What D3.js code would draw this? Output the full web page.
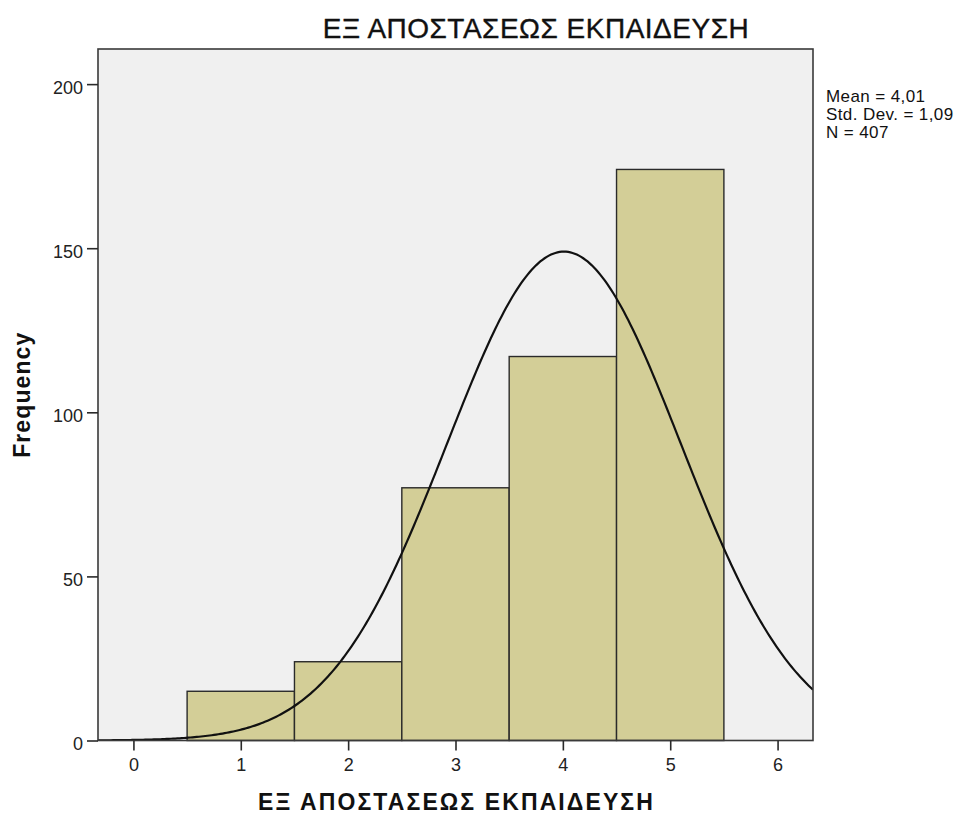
<!DOCTYPE html>
<html><head><meta charset="utf-8">
<script src="https://cdn.jsdelivr.net/npm/d3@7"></script>
<style>html,body{margin:0;padding:0;background:#fff;}svg{display:block;font-family:"Liberation Sans",Arial,sans-serif;}</style>
</head><body>
<svg id="chart" width="963" height="815"></svg>
<script>
const title = "ΕΞ ΑΠΟΣΤΑΣΕΩΣ ΕΚΠΑΙΔΕΥΣΗ";
const xAxisTitle = "ΕΞ ΑΠΟΣΤΑΣΕΩΣ ΕΚΠΑΙΔΕΥΣΗ";
const yAxisTitle = "Frequency";
const categories = [1, 2, 3, 4, 5];
const frequencies = [15, 24, 77, 117, 174];
const xTicks = [0, 1, 2, 3, 4, 5, 6];
const yTicks = [0, 50, 100, 150, 200];
const statsLines = ["Mean = 4,01", "Std. Dev. = 1,09", "N = 407"];
const meanValue = 4.01, sdValue = 1.09, nValue = 407, binWidth = 1;

const svg = d3.select("#chart");
const L = 98, R = 813, T = 49, B = 740.5;
const x = d3.scaleLinear().domain([-0.33, 6.33]).range([L, R]);
const y = d3.scaleLinear().domain([0, 210.7]).range([B, T]);

svg.append("rect").attr("x", L).attr("y", T).attr("width", R - L).attr("height", B - T)
  .attr("fill", "#f0f0f0");

svg.append("defs").append("clipPath").attr("id", "clip")
  .append("rect").attr("x", L).attr("y", T).attr("width", R - L).attr("height", B - T);

svg.append("g").selectAll("rect").data(categories).join("rect")
  .attr("x", d => x(d - binWidth / 2))
  .attr("y", (d, i) => y(frequencies[i]))
  .attr("width", d => x(d + binWidth / 2) - x(d - binWidth / 2))
  .attr("height", (d, i) => y(0) - y(frequencies[i]))
  .attr("fill", "#d3ce97").attr("stroke", "#2a2a2a").attr("stroke-width", 1.4);

const pdf = v => Math.exp(-0.5 * Math.pow((v - meanValue) / sdValue, 2)) / (sdValue * Math.sqrt(2 * Math.PI));
const curveX = d3.range(-0.33, 6.34, 0.02);
svg.append("path").attr("clip-path", "url(#clip)")
  .datum(curveX)
  .attr("d", d3.line().x(v => x(v)).y(v => y(nValue * binWidth * pdf(v))))
  .attr("fill", "none").attr("stroke", "#111").attr("stroke-width", 2.2);

svg.append("rect").attr("x", L).attr("y", T).attr("width", R - L).attr("height", B - T)
  .attr("fill", "none").attr("stroke", "#3a3a3a").attr("stroke-width", 1.6);

const xAxis = svg.append("g").attr("transform", `translate(0,${B})`)
  .call(d3.axisBottom(x).tickValues(xTicks).tickSize(10).tickPadding(8).tickFormat(d3.format("d")));
xAxis.select(".domain").remove();
xAxis.selectAll("line").attr("stroke", "#2a2a2a").attr("stroke-width", 1.6);
xAxis.selectAll("text").attr("font-size", 18).attr("fill", "#222").attr("font-family", "Liberation Sans, Arial, sans-serif");

const yAxis = svg.append("g").attr("transform", `translate(${L},0)`)
  .call(d3.axisLeft(y).tickValues(yTicks).tickSize(11).tickPadding(4).tickFormat(d3.format("d")));
yAxis.select(".domain").remove();
yAxis.selectAll("line").attr("stroke", "#2a2a2a").attr("stroke-width", 1.6);
yAxis.selectAll("text").attr("font-size", 18).attr("fill", "#222").attr("dy", "0.52em").attr("font-family", "Liberation Sans, Arial, sans-serif");

svg.append("text").attr("x", 536).attr("y", 38).attr("text-anchor", "middle")
  .attr("font-size", 28).attr("letter-spacing", 0.5).attr("fill", "#111")
  .attr("stroke", "#111").attr("stroke-width", 0.35).text(title);

svg.append("text").attr("x", (L + R) / 2 + 1).attr("y", 810).attr("text-anchor", "middle")
  .attr("font-size", 23).attr("letter-spacing", 2.1).attr("font-weight", "bold").attr("fill", "#111").text(xAxisTitle);

svg.append("text").attr("transform", `translate(30,${(T + B) / 2}) rotate(-90)`).attr("text-anchor", "middle")
  .attr("font-size", 23).attr("letter-spacing", 1.1).attr("font-weight", "bold").attr("fill", "#111").text(yAxisTitle);

svg.append("g").selectAll("text").data(statsLines).join("text")
  .attr("x", 826).attr("y", (d, i) => 101.7 + i * 18.3)
  .attr("font-size", 17).attr("letter-spacing", 0.4).attr("fill", "#111").text(d => d);
</script>
</body></html>
